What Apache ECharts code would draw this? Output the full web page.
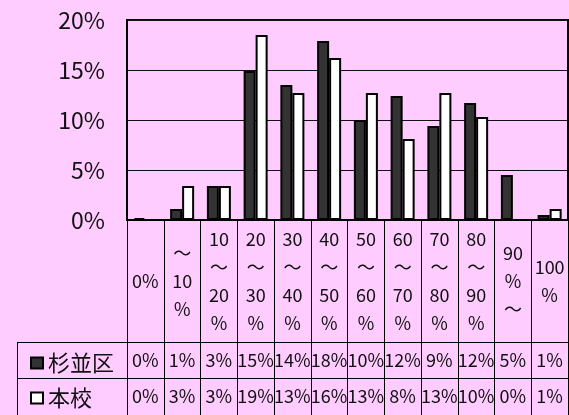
<!DOCTYPE html>
<html>
<head>
<meta charset="utf-8">
<script src="https://cdn.jsdelivr.net/npm/echarts@6/dist/echarts.min.js"></script>
<style>
  html, body { margin: 0; padding: 0; background: #FFCCFF; }
  #chart { width: 569px; height: 415px; }
</style>
</head>
<body>
<div id="chart"></div>
<script>
// Score bands (stacked text, one character group per line)
const categories = [
  '0%', '～\n10\n％', '10\n～\n20\n％', '20\n～\n30\n％', '30\n～\n40\n％',
  '40\n～\n50\n％', '50\n～\n60\n％', '60\n～\n70\n％', '70\n～\n80\n％',
  '80\n～\n90\n％', '90\n％\n～', '100\n%'
];
const seriesNames = ['杉並区', '本校'];
// Share of students in each band, percent
const suginami = [0.2, 1.1, 3.4, 14.9, 13.5, 17.9, 10.0, 12.4, 9.4, 11.7, 4.5, 0.5];
const honkou   = [0.0, 3.4, 3.4, 18.5, 12.7, 16.2, 12.7, 8.1, 12.7, 10.3, 0.0, 1.1];
// Value axis range
const yMin = 0, yMax = 20, yStep = 5;

// Layout
const FONT = "'Noto Sans CJK JP', 'Noto Sans', sans-serif";
const GRID_LEFT = 127, GRID_TOP = 20, GRID_H = 200, GRID_RIGHT = 1;
const HEADER_H = 122, ROW_H = 36, TABLE_LEFT = 17, PAGE_H = 415;
const axisBottom = GRID_TOP + GRID_H;
const row1Top = axisBottom + HEADER_H;
const row2Top = row1Top + ROW_H;

const pct = v => Math.round(Number(v)) + '%';

const tableAxis = (data, offset, tickLen, margin) => ({
  type: 'category',
  position: 'bottom',
  gridIndex: 0,
  data: data,
  offset: offset,
  boundaryGap: true,
  axisLine: { show: true, lineStyle: { color: '#000', width: 1 } },
  axisTick: { show: true, length: tickLen, interval: 0, lineStyle: { color: '#000', width: 1 } },
  axisLabel: {
    interval: 0, margin: margin, verticalAlign: 'middle',
    fontFamily: FONT, fontSize: 18, color: '#111',
    formatter: pct
  },
  splitLine: { show: false }
});

const chart = echarts.init(document.getElementById('chart'), null, { renderer: 'canvas' });
chart.setOption({
  animation: false,
  backgroundColor: '#FFCCFF',
  textStyle: { fontFamily: FONT },
  grid: {
    left: GRID_LEFT, top: GRID_TOP, right: GRID_RIGHT, height: GRID_H,
    show: true, borderColor: '#000', borderWidth: 2, backgroundColor: '#FFCCFF'
  },
  legend: {
    orient: 'vertical',
    left: 25,
    top: row1Top + 4,
    itemWidth: 12,
    itemHeight: 11,
    itemGap: 11,
    icon: 'rect',
    textStyle: { fontFamily: FONT, fontSize: 22, lineHeight: 24, color: '#111' },
    data: seriesNames
  },
  xAxis: [
    {
      type: 'category',
      position: 'bottom',
      data: categories,
      boundaryGap: true,
      axisLine: { show: true, lineStyle: { color: '#000', width: 2 } },
      axisTick: { show: true, length: HEADER_H, interval: 0, lineStyle: { color: '#000', width: 1 } },
      axisLabel: {
        interval: 0, margin: HEADER_H / 2, verticalAlign: 'middle',
        fontFamily: FONT, fontSize: 18, lineHeight: 28, color: '#111'
      }
    },
    tableAxis(suginami, HEADER_H, ROW_H, ROW_H / 2),
    tableAxis(honkou, HEADER_H + ROW_H, PAGE_H - row2Top + 2, 18)
  ],
  yAxis: {
    type: 'value',
    min: yMin, max: yMax, interval: yStep,
    axisLine: { show: true, lineStyle: { color: '#000', width: 2 } },
    axisTick: { show: false },
    axisLabel: {
      margin: 22, fontFamily: FONT, fontSize: 23, color: '#111',
      formatter: v => v + '%'
    },
    splitLine: { show: true, lineStyle: { color: '#111', width: 1 } }
  },
  series: [
    {
      name: seriesNames[0], type: 'bar', xAxisIndex: 0, data: suginami,
      barWidth: 12, barGap: '0%',
      itemStyle: { color: '#333333', borderColor: '#000', borderWidth: 2 }
    },
    {
      name: seriesNames[1], type: 'bar', xAxisIndex: 0, data: honkou,
      barWidth: 12, barGap: '0%',
      itemStyle: { color: '#ffffff', borderColor: '#000', borderWidth: 2 }
    }
  ],
  graphic: [
    // row borders of the legend column, left of the plot
    { type: 'line', shape: { x1: TABLE_LEFT, y1: row1Top + 0.5, x2: GRID_LEFT, y2: row1Top + 0.5 }, style: { stroke: '#000', lineWidth: 1 } },
    { type: 'line', shape: { x1: TABLE_LEFT, y1: row2Top + 0.5, x2: GRID_LEFT, y2: row2Top + 0.5 }, style: { stroke: '#000', lineWidth: 1 } },
    { type: 'line', shape: { x1: TABLE_LEFT + 0.5, y1: row1Top, x2: TABLE_LEFT + 0.5, y2: PAGE_H }, style: { stroke: '#000', lineWidth: 1 } }
  ]
});
</script>
</body>
</html>
